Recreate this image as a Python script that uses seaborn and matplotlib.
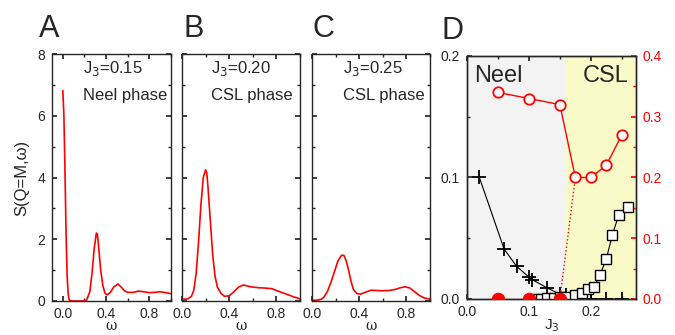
import numpy as np
import pandas as pd
import matplotlib.pyplot as plt
import seaborn as sns
from matplotlib.ticker import MultipleLocator

# ================= SPECTRA (panels A-C) =================
w_a = [0.0, 0.01, 0.02, 0.03, 0.04, 0.05, 0.06, 0.08, 0.20, 0.22, 0.25, 0.27, 0.29, 0.31,
       0.32, 0.33, 0.35, 0.37, 0.39, 0.41, 0.44, 0.47, 0.51, 0.54, 0.57, 0.60, 0.65, 0.70,
       0.75, 0.80, 0.85, 0.90, 0.95, 1.0]
s_a = [6.82, 6.0, 4.2, 2.2, 0.8, 0.2, 0.03, 0.0, 0.0, 0.03, 0.3, 0.9, 1.7, 2.2,
       2.15, 1.8, 1.0, 0.5, 0.25, 0.2, 0.28, 0.45, 0.55, 0.45, 0.33, 0.28, 0.28, 0.32,
       0.30, 0.27, 0.28, 0.30, 0.27, 0.24]

w_b = [0.0, 0.05, 0.08, 0.10, 0.12, 0.14, 0.16, 0.18, 0.20, 0.21, 0.22, 0.24, 0.26, 0.28,
       0.30, 0.33, 0.36, 0.40, 0.44, 0.48, 0.52, 0.56, 0.60, 0.65, 0.70, 0.76, 0.80, 0.85,
       0.90, 0.95, 1.0]
s_b = [0.05, 0.07, 0.15, 0.35, 0.9, 1.9, 3.1, 4.0, 4.25, 4.15, 3.7, 2.6, 1.5, 0.8,
       0.45, 0.25, 0.15, 0.17, 0.3, 0.45, 0.52, 0.48, 0.45, 0.43, 0.42, 0.40, 0.34, 0.27,
       0.2, 0.13, 0.07]

w_c = [0.0, 0.05, 0.08, 0.10, 0.13, 0.16, 0.19, 0.22, 0.25, 0.27, 0.29, 0.31, 0.33, 0.35,
       0.38, 0.41, 0.45, 0.50, 0.55, 0.60, 0.65, 0.70, 0.75, 0.79, 0.83, 0.87, 0.91, 0.95, 1.0]
s_c = [0.02, 0.03, 0.06, 0.12, 0.3, 0.6, 0.95, 1.3, 1.48, 1.48, 1.3, 1.0, 0.65, 0.38,
       0.24, 0.22, 0.28, 0.35, 0.34, 0.33, 0.34, 0.37, 0.43, 0.46, 0.42, 0.3, 0.18, 0.1, 0.06]

panel_labels = ["A", "B", "C", "D"]
j3_texts = ["J$_3$=0.15", "J$_3$=0.20", "J$_3$=0.25"]
phase_texts = ["Neel phase", "CSL phase", "CSL phase"]

# ================= PHASE DIAGRAM (panel D) =================
j_plus = [0.02, 0.06, 0.08, 0.10, 0.105, 0.13, 0.15, 0.16, 0.175, 0.20, 0.225, 0.25]
m_plus = [0.100, 0.041, 0.027, 0.018, 0.016, 0.009, 0.004, 0.003, 0.0, 0.0, 0.0, 0.0]

j_sq = [0.11, 0.12, 0.13, 0.14, 0.15, 0.16, 0.175, 0.185, 0.195, 0.205, 0.215, 0.225,
        0.235, 0.245, 0.26]
m_sq = [0.0003, 0.0003, 0.0005, 0.001, 0.0015, 0.002, 0.003, 0.005, 0.008, 0.010, 0.020,
        0.033, 0.053, 0.069, 0.076]

j_gap = [0.05, 0.10, 0.15, 0.175, 0.20, 0.225, 0.25]
gap = [0.34, 0.33, 0.32, 0.20, 0.20, 0.22, 0.27]

j_gap0 = [0.05, 0.10, 0.15]
gap0 = [0.0, 0.0, 0.0]
j_link = [0.15, 0.175]
gap_link = [0.0, 0.20]

J_C = 0.16
J_MAX = 0.273

# ================= STYLE =================
sns.set_theme(style="ticks")
plt.rcParams["font.family"] = ["Liberation Sans", "DejaVu Sans"]
plt.rcParams["axes.linewidth"] = 1.0

fig = plt.figure(figsize=(6.75, 3.35), dpi=100)

boxes = [
    [52 / 675, 0.1015, 119 / 675, 0.737],
    [182 / 675, 0.1015, 118 / 675, 0.737],
    [312 / 675, 0.1015, 118 / 675, 0.737],
]
xlims = [(-0.1, 1.0), (0, 1.0), (0, 1.0)]
text_x = [0.26, 0.245, 0.26]
letter_x = [-0.11, 0.01, 0.0]
spectra = [(w_a, s_a), (w_b, s_b), (w_c, s_c)]

for i, (box, (w, s)) in enumerate(zip(boxes, spectra)):
    ax = fig.add_axes(box)
    df = pd.DataFrame({"w": w, "s": s})
    sns.lineplot(data=df, x="w", y="s", sort=False, color="red", lw=1.2, ax=ax)
    ax.set_xlim(*xlims[i])
    ax.set_ylim(0, 8)
    ax.xaxis.set_major_locator(MultipleLocator(0.4))
    ax.xaxis.set_minor_locator(MultipleLocator(0.2))
    ax.yaxis.set_major_locator(MultipleLocator(2))
    ax.yaxis.set_minor_locator(MultipleLocator(1))
    ax.tick_params(which="both", direction="in", top=True, right=True, labelsize=10)
    ax.tick_params(axis="x", pad=4)
    ax.tick_params(axis="y", pad=5)
    ax.tick_params(which="major", length=3.5)
    ax.tick_params(which="minor", length=2)
    ax.xaxis.set_major_formatter(plt.FormatStrFormatter("%.1f"))
    ax.set_xlabel("ω", family="DejaVu Serif", fontsize=10, labelpad=-1)
    if i == 0:
        ax.set_ylabel("S(Q=M,ω)", fontsize=12, labelpad=6)
        ax.yaxis.set_major_formatter(plt.FormatStrFormatter("%d"))
    else:
        ax.set_ylabel("")
        ax.tick_params(labelleft=False)
    ax.text(text_x[i], 0.925, j3_texts[i], transform=ax.transAxes,
            fontsize=12, ha="left", va="baseline")
    ax.text(text_x[i], 0.815, phase_texts[i], transform=ax.transAxes,
            fontsize=12, ha="left", va="baseline")
    ax.text(letter_x[i], 1.07, panel_labels[i], transform=ax.transAxes,
            fontsize=22, ha="left", va="baseline")

# ================= PANEL D =================
axd = fig.add_axes([467 / 675, 0.1075, 169 / 675, 0.7254])
axd.axvspan(0, J_C, color="#f3f3f3", lw=0, zorder=0)
axd.axvspan(J_C, J_MAX, color="#fafac8", lw=0, zorder=0)

sns.lineplot(x=j_plus, y=m_plus, sort=False, color="black", lw=0.8, marker="+",
             markersize=10, mew=1.3, mec="black", ax=axd, zorder=3)
sns.lineplot(x=j_sq, y=m_sq, sort=False, color="black", lw=0.8, marker="s",
             markersize=7, mfc="white", mec="black", mew=1.0, ax=axd, zorder=3)

axd.set_xlim(0, J_MAX)
axd.set_ylim(0, 0.2)
axd.xaxis.set_major_locator(MultipleLocator(0.1))
axd.xaxis.set_minor_locator(MultipleLocator(0.05))
axd.yaxis.set_major_locator(MultipleLocator(0.1))
axd.yaxis.set_minor_locator(MultipleLocator(0.05))
axd.tick_params(which="both", direction="in", top=True, right=False, labelsize=10)
axd.tick_params(axis="x", pad=4)
axd.tick_params(axis="y", pad=5)
axd.tick_params(which="major", length=3.5)
axd.tick_params(which="minor", length=2)
axd.xaxis.set_major_formatter(plt.FormatStrFormatter("%.1f"))
axd.yaxis.set_major_formatter(plt.FormatStrFormatter("%.1f"))
axd.set_xlabel("J$_3$", fontsize=11, labelpad=-1)
axd.set_ylabel("")
axd.text(0.04, 0.893, "Neel", transform=axd.transAxes, fontsize=17, va="baseline")
axd.text(0.955, 0.893, "CSL", transform=axd.transAxes, fontsize=17, va="baseline",
         ha="right")
axd.text(-0.15, 1.07, panel_labels[3], transform=axd.transAxes, fontsize=22,
         ha="left", va="baseline")

axr = axd.twinx()
sns.lineplot(x=j_gap, y=gap, sort=False, color="red", lw=1.0, marker="o",
             markersize=7.5, mfc="white", mec="red", mew=1.3, ax=axr, zorder=3)
sns.lineplot(x=j_gap0, y=gap0, sort=False, color="red", lw=1.0, ls=":", marker="o",
             markersize=9, mfc="red", mec="red", ax=axr, zorder=3)
sns.lineplot(x=j_link, y=gap_link, sort=False, color="red", lw=1.0, ls=":", ax=axr,
             zorder=2)
axr.set_ylim(0, 0.4)
axr.yaxis.set_major_locator(MultipleLocator(0.1))
axr.yaxis.set_minor_locator(MultipleLocator(0.05))
axr.tick_params(which="both", direction="in", colors="red", labelsize=10, pad=5)
axr.tick_params(which="major", length=3.5)
axr.tick_params(which="minor", length=2)
axr.yaxis.set_major_formatter(plt.FormatStrFormatter("%.1f"))
axr.set_ylabel("")

fig.savefig("out.png", dpi=100)
